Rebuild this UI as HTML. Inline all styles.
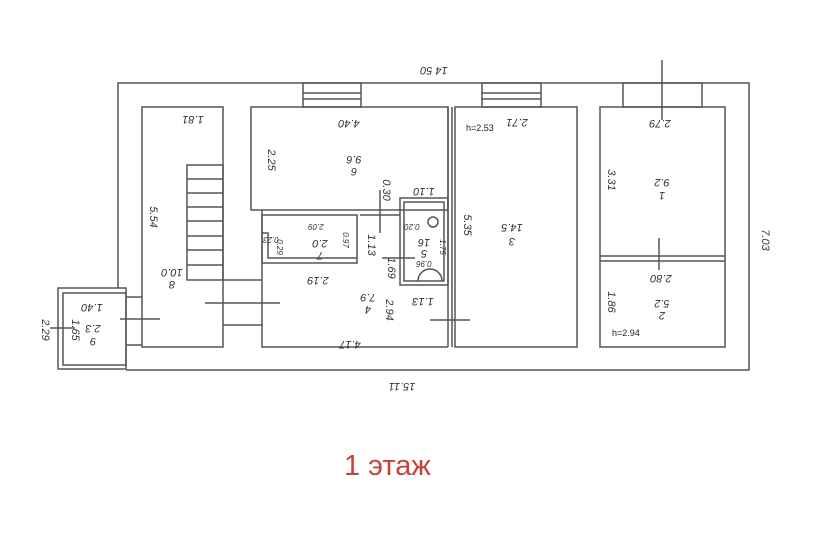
<!DOCTYPE html>
<html><head><meta charset="utf-8"><style>
html,body{margin:0;padding:0;background:#fff;width:833px;height:544px;overflow:hidden}
svg{display:block}
text{font-family:"Liberation Sans",sans-serif;font-style:italic;fill:#333}
</style></head><body>
<svg width="833" height="544" viewBox="0 0 833 544">
<g fill="none" stroke="#555" stroke-width="1.5">
<path d="M118 288 V83 H749 V370 H126"/>
<rect x="58" y="288" width="68" height="81"/>
<rect x="63" y="293" width="63" height="72"/>
<rect x="303" y="83" width="58" height="24"/><line x1="303" y1="93" x2="361" y2="93"/><line x1="303" y1="99" x2="361" y2="99"/>
<rect x="482" y="83" width="59" height="24"/><line x1="482" y1="93" x2="541" y2="93"/><line x1="482" y1="99" x2="541" y2="99"/>
<rect x="623" y="83" width="79" height="24"/>
<line x1="662" y1="60" x2="662" y2="120"/>
<rect x="142" y="107" width="81" height="240"/>
<rect x="187" y="165" width="36" height="115"/>
<line x1="187" y1="179" x2="223" y2="179"/><line x1="187" y1="193" x2="223" y2="193"/><line x1="187" y1="207" x2="223" y2="207"/><line x1="187" y1="221" x2="223" y2="221"/><line x1="187" y1="236" x2="223" y2="236"/><line x1="187" y1="250" x2="223" y2="250"/><line x1="187" y1="265" x2="223" y2="265"/>
<line x1="223" y1="280" x2="262" y2="280"/><line x1="223" y1="325" x2="262" y2="325"/>
<line x1="205" y1="303" x2="280" y2="303"/>
<line x1="126" y1="297" x2="142" y2="297"/><line x1="126" y1="345" x2="142" y2="345"/>
<line x1="120" y1="319" x2="160" y2="319"/><line x1="50" y1="328" x2="75" y2="328"/>
<rect x="251" y="107" width="197" height="103"/>
<path d="M262 210 V347 H448"/>
<rect x="262" y="215" width="95" height="48"/>
<path d="M262 233 H268 V258 H357"/>
<line x1="380" y1="190" x2="380" y2="233"/>
<line x1="360" y1="215" x2="400" y2="215"/>
<rect x="400" y="198" width="48" height="87"/>
<rect x="404" y="202" width="40" height="79"/>
<circle cx="433" cy="222" r="5"/>
<path d="M418 281 A12 12 0 0 1 442 281"/>
<line x1="382" y1="258" x2="415" y2="258"/>
<line x1="448" y1="107" x2="448" y2="347"/>
<line x1="452" y1="107" x2="452" y2="347"/>
<line x1="430" y1="320" x2="470" y2="320"/>
<rect x="455" y="107" width="122" height="240"/>
<rect x="600" y="107" width="125" height="240"/>
<line x1="600" y1="256" x2="725" y2="256"/><line x1="600" y1="261" x2="725" y2="261"/>
<line x1="659" y1="238" x2="659" y2="270"/>
</g>
<g font-size="11">
<text transform="rotate(180 434 67)" x="434" y="67" text-anchor="middle">14 50</text>
<text transform="rotate(180 402 383)" x="402" y="383" text-anchor="middle">15.11</text>
<text transform="rotate(90 762 240)" x="762" y="240" text-anchor="middle">7.03</text>
<text transform="rotate(90 42 330)" x="42" y="330" text-anchor="middle">2.29</text>
<text transform="rotate(180 193 116)" x="193" y="116" text-anchor="middle">1.81</text>
<text transform="rotate(90 150 217)" x="150" y="217" text-anchor="middle">5.54</text>
<text transform="rotate(180 172 269)" x="172" y="269" text-anchor="middle">10.0</text>
<text transform="rotate(180 172 281)" x="172" y="281" text-anchor="middle">8</text>
<text transform="rotate(180 92 304)" x="92" y="304" text-anchor="middle">1.40</text>
<text transform="rotate(180 93 325)" x="93" y="325" text-anchor="middle">2.3</text>
<text transform="rotate(180 93 338)" x="93" y="338" text-anchor="middle">9</text>
<text transform="rotate(90 72 330)" x="72" y="330" text-anchor="middle">1.65</text>
<text transform="rotate(180 349 120)" x="349" y="120" text-anchor="middle">4.40</text>
<text transform="rotate(90 268 160)" x="268" y="160" text-anchor="middle">2.25</text>
<text transform="rotate(180 354 156)" x="354" y="156" text-anchor="middle">9.6</text>
<text transform="rotate(180 354 168)" x="354" y="168" text-anchor="middle">6</text>
<text transform="rotate(90 383 190)" x="383" y="190" text-anchor="middle">0.30</text>
<text transform="rotate(180 424 188)" x="424" y="188" text-anchor="middle">1.10</text>
<text transform="rotate(90 464 225)" x="464" y="225" text-anchor="middle">5.35</text>
<text transform="rotate(180 517 119)" x="517" y="119" text-anchor="middle">2.71</text>
<text transform="rotate(180 512 224)" x="512" y="224" text-anchor="middle">14.5</text>
<text transform="rotate(180 512 238)" x="512" y="238" text-anchor="middle">3</text>
<text transform="rotate(180 660 120)" x="660" y="120" text-anchor="middle">2.79</text>
<text transform="rotate(90 608 180)" x="608" y="180" text-anchor="middle">3.31</text>
<text transform="rotate(180 662 179)" x="662" y="179" text-anchor="middle">9.2</text>
<text transform="rotate(180 662 192)" x="662" y="192" text-anchor="middle">1</text>
<text transform="rotate(180 661 275)" x="661" y="275" text-anchor="middle">2.80</text>
<text transform="rotate(90 608 302)" x="608" y="302" text-anchor="middle">1.86</text>
<text transform="rotate(180 662 300)" x="662" y="300" text-anchor="middle">5.2</text>
<text transform="rotate(180 662 312)" x="662" y="312" text-anchor="middle">2</text>
<text transform="rotate(180 318 277)" x="318" y="277" text-anchor="middle">2.19</text>
<text transform="rotate(180 320 240)" x="320" y="240" text-anchor="middle">2.0</text>
<text transform="rotate(180 320 252)" x="320" y="252" text-anchor="middle">7</text>
<text transform="rotate(90 368 245)" x="368" y="245" text-anchor="middle">1.13</text>
<text transform="rotate(90 388 268)" x="388" y="268" text-anchor="middle">1.69</text>
<text transform="rotate(180 368 294)" x="368" y="294" text-anchor="middle">7.9</text>
<text transform="rotate(180 368 306)" x="368" y="306" text-anchor="middle">4</text>
<text transform="rotate(90 386 310)" x="386" y="310" text-anchor="middle">2.94</text>
<text transform="rotate(180 350 341)" x="350" y="341" text-anchor="middle">4.17</text>
<text transform="rotate(180 423 298)" x="423" y="298" text-anchor="middle">1.13</text>
<text transform="rotate(180 424 239)" x="424" y="239" text-anchor="middle">16</text>
<text transform="rotate(180 424 250)" x="424" y="250" text-anchor="middle">5</text>
</g>
<g font-size="8">
<text transform="rotate(180 316 224)" x="316" y="224" text-anchor="middle">2.09</text>
<text transform="rotate(180 271 237)" x="271" y="237" text-anchor="middle">0.23</text>
<text transform="rotate(90 277 247)" x="277" y="247" text-anchor="middle">0.29</text>
<text transform="rotate(90 343 240)" x="343" y="240" text-anchor="middle">0.97</text>
<text transform="rotate(90 440 247)" x="440" y="247" text-anchor="middle">1.75</text>
<text transform="rotate(180 412 224)" x="412" y="224" text-anchor="middle">0.20</text>
<text transform="rotate(180 424 261)" x="424" y="261" text-anchor="middle">0.96</text>
<text x="466" y="131" style="font-style:normal;fill:#222" font-size="9">h=2.53</text>
<text x="612" y="336" style="font-style:normal;fill:#222" font-size="9">h=2.94</text>
</g>
<text x="344" y="475" font-size="29" style="font-style:normal;fill:#c9413a">1 этаж</text>
</svg>
</body></html>
